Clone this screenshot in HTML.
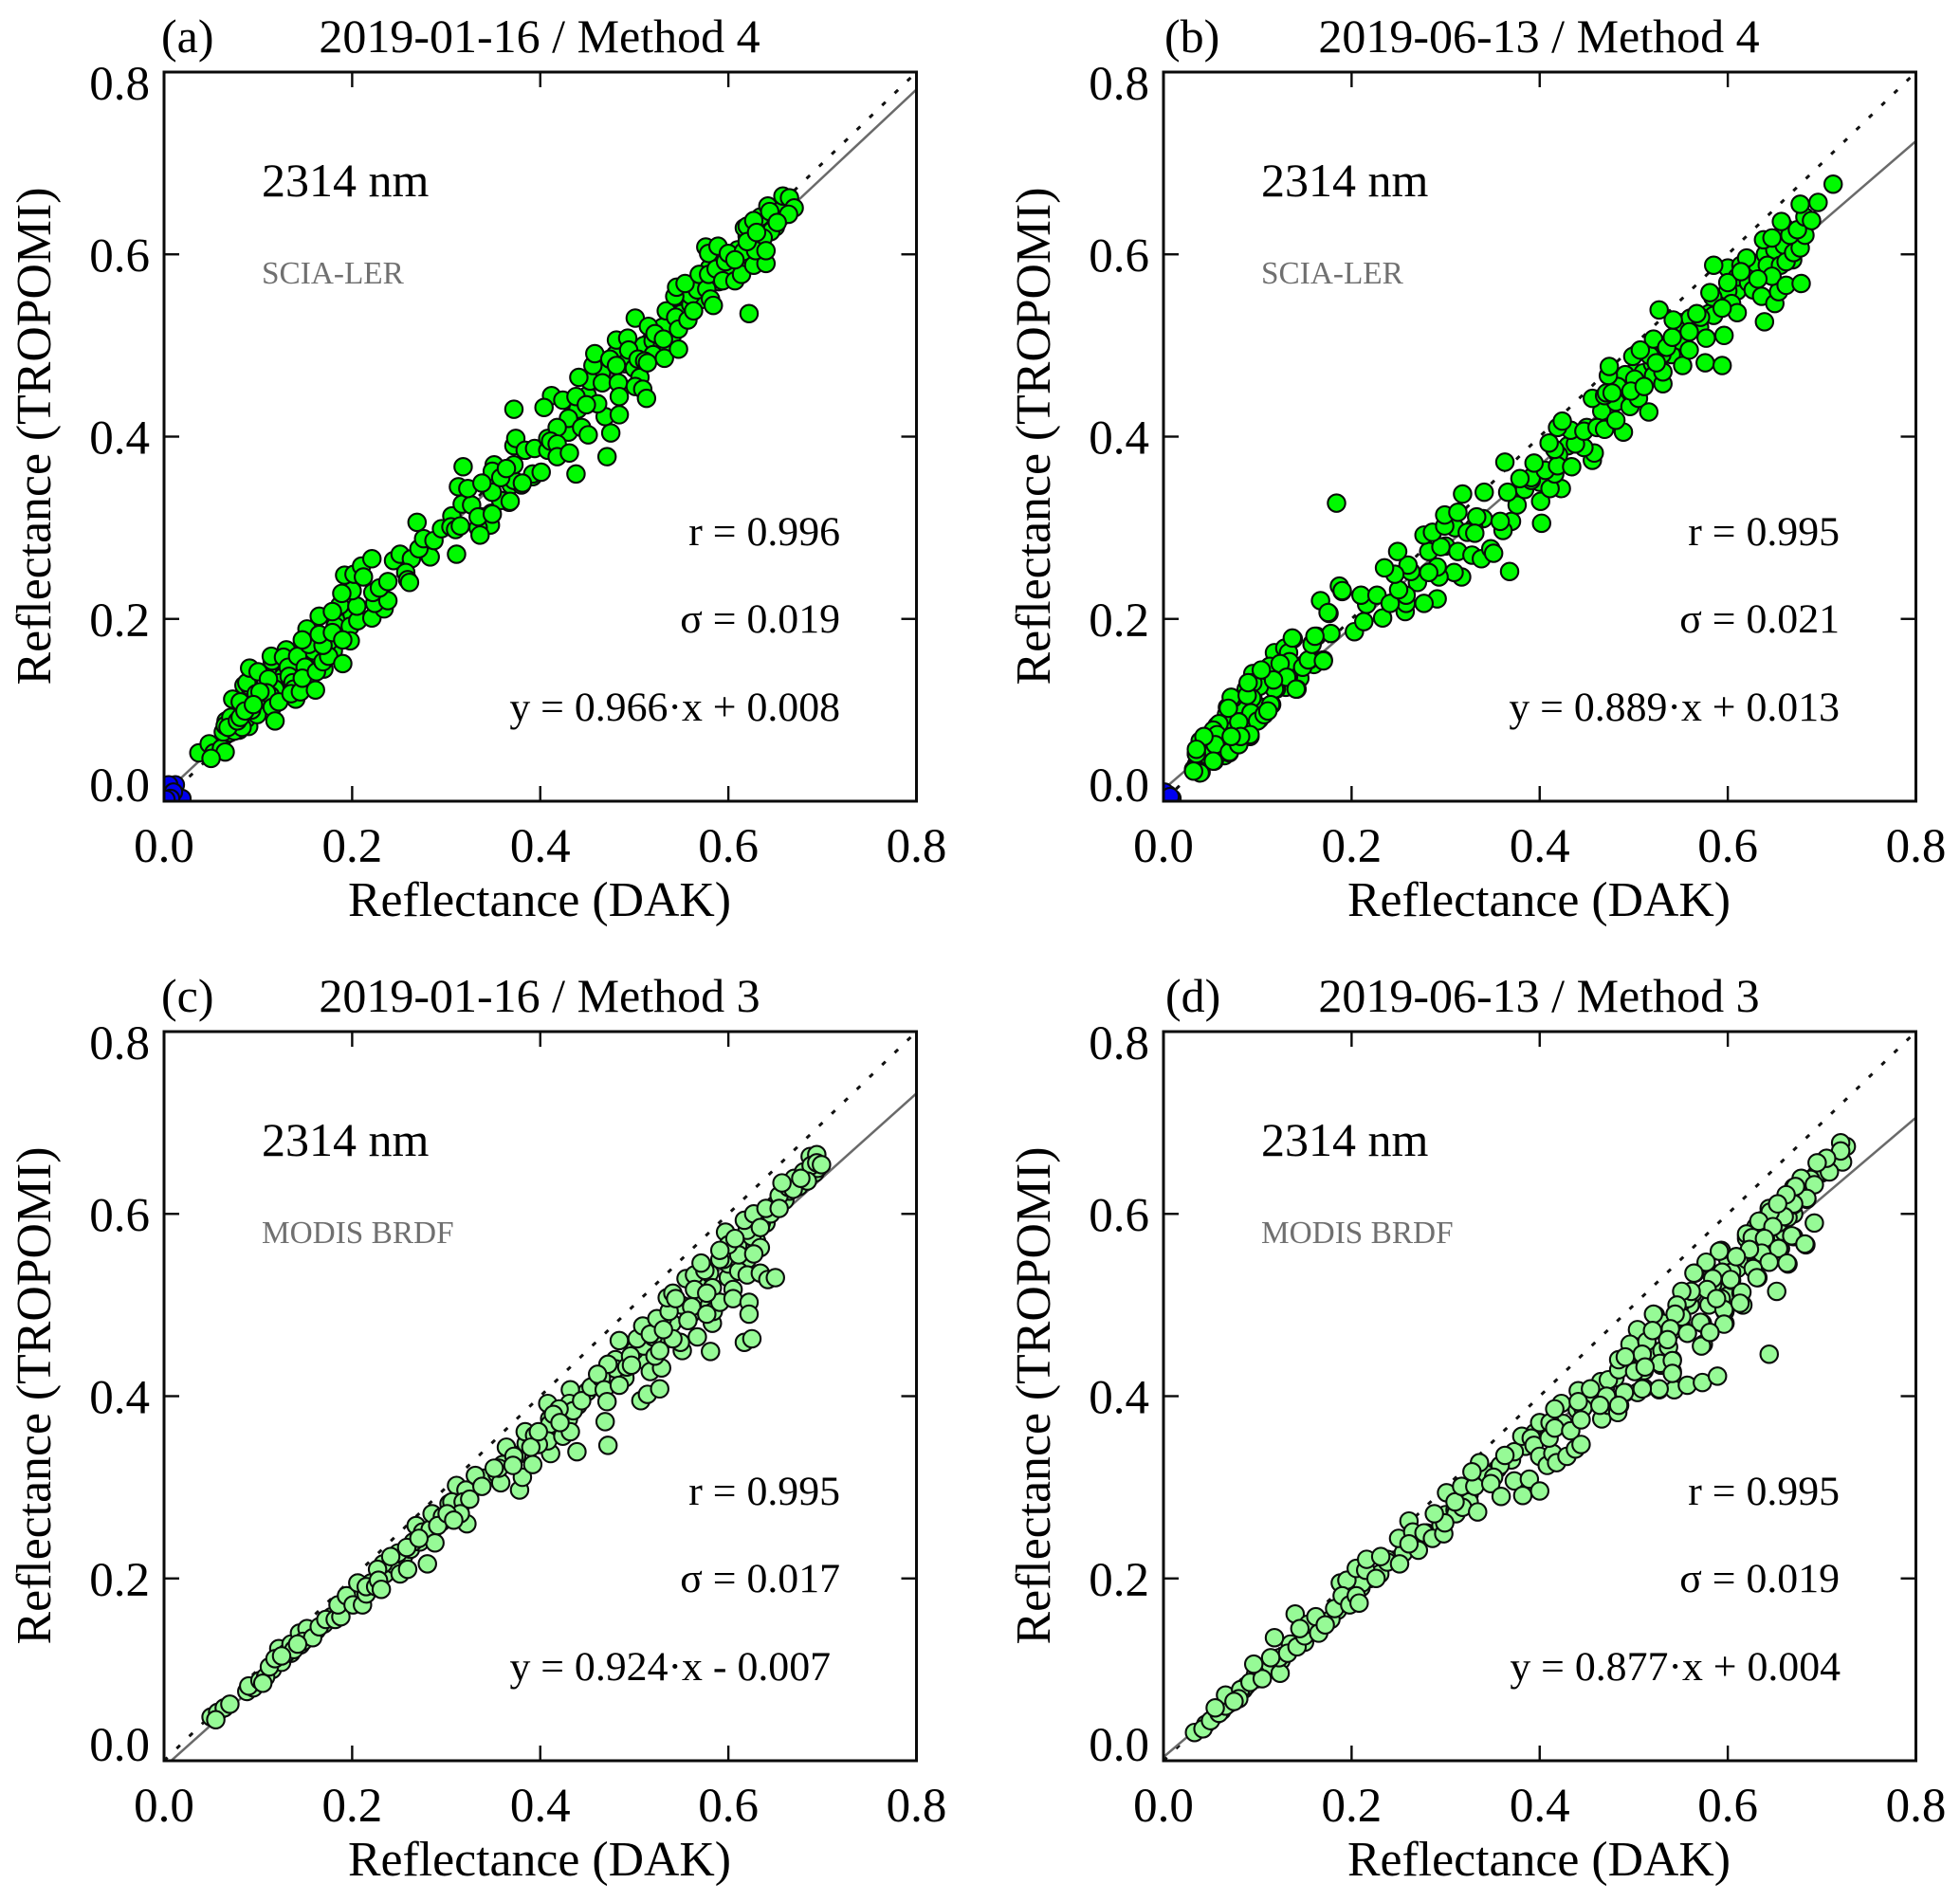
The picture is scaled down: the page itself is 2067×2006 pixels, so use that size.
<!DOCTYPE html>
<html>
<head>
<meta charset="utf-8">
<title>Reflectance scatter plots</title>
<style>
html,body{margin:0;padding:0;background:#fff;}
svg{display:block;}
text{font-family:"Liberation Serif",serif;fill:#000;}
.title{font-size:50px;text-anchor:middle;}
.letter{font-size:50px;}
.wave{font-size:50px;}
.source{font-size:33.3px;fill:#707070;}
.stat{font-size:43.8px;text-anchor:end;}
.axis-title{font-size:51.8px;text-anchor:middle;}
.tick-label{font-size:51px;}
</style>
</head>
<body>
<svg id="figure" xmlns="http://www.w3.org/2000/svg" width="2067" height="2006" viewBox="0 0 2067 2006">
<rect x="0" y="0" width="2067" height="2006" fill="#fff"/>
<g id="panel-a" transform="translate(173,76)">
  <text class="letter" x="-3" y="-21">(a)</text>
  <text class="title" x="396" y="-21">2019-01-16 / Method 4</text>
  <g class="plot"></g>
  <text class="wave" x="103" y="131">2314 nm</text>
  <text class="source" x="103" y="223">SCIA-LER</text>
  <text class="stat" x="713" y="499">r = 0.996</text>
  <text class="stat" x="713" y="591">σ = 0.019</text>
  <text class="stat" x="713" y="684">y = 0.966·x + 0.008</text>
  <text class="axis-title" x="396" y="890">Reflectance (DAK)</text>
  <text class="axis-title" transform="translate(-120,384) rotate(-90)">Reflectance (TROPOMI)</text>
</g>
<g id="panel-b" transform="translate(1227,76)">
  <text class="letter" x="1" y="-21">(b)</text>
  <text class="title" x="396" y="-21">2019-06-13 / Method 4</text>
  <g class="plot"></g>
  <text class="wave" x="103" y="131">2314 nm</text>
  <text class="source" x="103" y="223">SCIA-LER</text>
  <text class="stat" x="713" y="499">r = 0.995</text>
  <text class="stat" x="713" y="591">σ = 0.021</text>
  <text class="stat" x="713" y="684">y = 0.889·x + 0.013</text>
  <text class="axis-title" x="396" y="890">Reflectance (DAK)</text>
  <text class="axis-title" transform="translate(-120,384) rotate(-90)">Reflectance (TROPOMI)</text>
</g>
<g id="panel-c" transform="translate(173,1088)">
  <text class="letter" x="-3" y="-21">(c)</text>
  <text class="title" x="396" y="-21">2019-01-16 / Method 3</text>
  <g class="plot"></g>
  <text class="wave" x="103" y="131">2314 nm</text>
  <text class="source" x="103" y="223">MODIS BRDF</text>
  <text class="stat" x="713" y="499">r = 0.995</text>
  <text class="stat" x="713" y="591">σ = 0.017</text>
  <text class="stat" x="703" y="684">y = 0.924·x - 0.007</text>
  <text class="axis-title" x="396" y="890">Reflectance (DAK)</text>
  <text class="axis-title" transform="translate(-120,384) rotate(-90)">Reflectance (TROPOMI)</text>
</g>
<g id="panel-d" transform="translate(1227,1088)">
  <text class="letter" x="2" y="-21">(d)</text>
  <text class="title" x="396" y="-21">2019-06-13 / Method 3</text>
  <g class="plot"></g>
  <text class="wave" x="103" y="131">2314 nm</text>
  <text class="source" x="103" y="223">MODIS BRDF</text>
  <text class="stat" x="713" y="499">r = 0.995</text>
  <text class="stat" x="713" y="591">σ = 0.019</text>
  <text class="stat" x="714" y="684">y = 0.877·x + 0.004</text>
  <text class="axis-title" x="396" y="890">Reflectance (DAK)</text>
  <text class="axis-title" transform="translate(-120,384) rotate(-90)">Reflectance (TROPOMI)</text>
</g>
</svg>
<script>
const tickValues = [0, 0.2, 0.4, 0.6, 0.8];
const tickLabels = ["0.0", "0.2", "0.4", "0.6", "0.8"];
const fitSlopeA = 0.966, fitInterceptA = 0.008;
const fitSlopeB = 0.889, fitInterceptB = 0.013;
const fitSlopeC = 0.924, fitInterceptC = -0.007;
const fitSlopeD = 0.877, fitInterceptD = 0.004;

const blueA = [[.012,.018],[.003,.007],[.015,.005],[.019,.003],[.005,.018],[.010,.010],[.007,.003],[.002,.002]];
const blueB = [[.005,.007],[.009,.003],[.001,.010],[.003,.003],[.007,.005]];

const pointsA = [
[.12,.14],[.14,.15],[.15,.16],[.16,.17],[.48,.49],[.51,.50],[.52,.505],[.53,.50],[.55,.55],[.60,.575],[.58,.585],[.62,.595],[.61,.605],[.65,.63],
[.065,.072],[.07,.075],[.08,.078],[.09,.082],[.10,.10],[.11,.11],[.12,.115],[.125,.122],[.13,.125],[.14,.112],[.15,.125],[.155,.135],[.16,.145],[.17,.145],[.18,.165],[.175,.175],[.19,.195],[.20,.205],[.43,.405],[.44,.43],[.45,.445],[.465,.47],[.49,.48],[.50,.475],[.52,.49],[.54,.51],[.55,.535],[.56,.545],[.57,.55],[.575,.565],[.59,.57],[.60,.585],[.61,.59],[.615,.60],[.625,.61],[.635,.615],[.645,.625],[.655,.64],[.63,.635],[.66,.655],[.62,.62],[.60,.58],[.59,.595],[.56,.555],[.53,.52],
[.037,.053],[.048,.063],[.053,.053],[.061,.058],[.065,.054],[.050,.047],[.063,.076],[.066,.088],[.065,.083],[.076,.083],[.075,.077],[.087,.090],[.083,.081],[.099,.095],[.078,.109],[.073,.112],[.125,.151],[.130,.144],[.132,.133],[.138,.140],[.127,.137],[.123,.130],[.145,.146],[.155,.154],[.165,.159],[.172,.161],[.159,.165],[.135,.151],[.142,.133],[.145,.130],[.118,.123],[.113,.116],[.105,.113],[.095,.116],[.085,.127],[.081,.109],[.071,.092],[.068,.081],[.078,.088],[.081,.092],[.093,.100],
[.091,.126],[.088,.130],[.091,.146],[.100,.142],[.111,.134],[.109,.119],[.115,.103],[.118,.088],[.098,.118],[.102,.120],[.122,.109],[.086,.099],[.095,.106],[.115,.154],[.114,.159],[.130,.166],[.127,.158],[.132,.147],[.133,.137],[.137,.130],[.138,.123],[.135,.118],[.145,.120],[.161,.122],[.142,.159],[.150,.147],[.147,.135],[.162,.142],[.169,.153],[.175,.159],[.190,.151],[.154,.172],[.169,.171],[.152,.189],[.147,.177],[.165,.183],[.165,.203],[.182,.192],[.198,.192],[.198,.176],[.179,.185],[.190,.177],[.206,.198],[.187,.215],[.205,.214],[.179,.208],[.221,.201],[.234,.211],[.224,.217],[.238,.220],[.222,.229],[.229,.234],[.238,.241],[.200,.231],[.189,.228],[.192,.248],[.202,.249],[.210,.258],[.212,.246],[.221,.266],[.244,.264],[.251,.271],[.263,.266],[.257,.251],[.259,.243],[.261,.240],[.283,.268],[.271,.277],[.276,.288],[.287,.286],[.269,.306],[.295,.299],[.306,.313],[.305,.301],[.310,.298],[.315,.302],[.311,.271],[.337,.312],[.348,.316],[.347,.303],[.334,.300],[.336,.292],[.317,.326],[.327,.325],[.313,.345],[.323,.343],[.349,.339],[.343,.350],[.367,.328],[.358,.330],[.372,.351],[.369,.347],[.380,.347],[.392,.356],[.318,.367],
[.351,.369],[.349,.362],[.349,.339],[.338,.349],[.334,.312],[.349,.315],[.368,.329],[.372,.352],[.372,.369],[.372,.390],[.374,.398],[.384,.385],[.394,.387],[.392,.359],[.401,.361],[.381,.349],[.358,.355],[.364,.365],[.408,.385],[.408,.398],
[.372,.430],[.412,.445],[.404,.432],[.424,.440],[.438,.444],[.430,.420],[.418,.410],[.411,.395],[.418,.392],[.418,.378],[.431,.382],[.438,.359],[.444,.410],[.451,.402],[.471,.378],[.475,.404],[.469,.422],[.461,.436],[.449,.435],[.453,.461],[.441,.465],[.456,.478],[.458,.491],[.466,.459],[.474,.485],[.481,.478],[.483,.459],[.484,.444],[.484,.424],[.481,.506],[.493,.508],[.501,.530],[.494,.495],[.504,.485],[.506,.465],[.501,.455],[.509,.452],[.513,.442],[.511,.483],[.514,.481],[.515,.521],[.522,.513],[.531,.507],[.532,.486],[.547,.496],[.534,.538],[.544,.531],[.547,.518],[.543,.554],[.545,.564],[.557,.528],[.563,.538],[.567,.561],[.554,.568],[.569,.578],[.577,.562],[.581,.551],[.584,.544],[.576,.608],[.579,.601],[.579,.578],[.587,.584],[.589,.609],[.597,.592],[.594,.571],[.607,.571],[.614,.578],[.600,.601],[.622,.535],[.617,.629],[.620,.631],[.616,.603],[.627,.588],[.640,.590],[.637,.618],[.634,.641],[.627,.637],[.629,.604],[.640,.604],[.642,.653],[.654,.647],[.644,.647],[.658,.664],[.665,.662],[.670,.651],[.664,.644],[.652,.635],[.620,.614],[.630,.624],[.607,.594]
];

const pointsB = [
[.60,.585],[.61,.56],[.63,.575],[.65,.59],[.66,.60],[.55,.525],[.56,.53],[.50,.47],[.48,.44],[.47,.41],[.44,.40],[.34,.31],[.31,.30],
[.54,.49],[.55,.505],[.57,.52],[.58,.535],[.59,.55],[.60,.56],[.61,.575],[.62,.58],[.63,.59],[.64,.60],[.65,.605],[.66,.61],[.67,.62],[.66,.63],[.45,.41],[.47,.43],[.49,.44],[.49,.46],[.51,.47],[.52,.48],[.53,.49],[.43,.39],[.42,.38],[.40,.35],[.33,.30],[.30,.28],[.27,.24],[.25,.22],[.16,.15],[.13,.125],[.145,.135],
[.035,.040],[.059,.056],[.045,.046],[.062,.068],[.065,.050],[.052,.060],[.045,.060],[.072,.080],[.082,.100],[.105,.103],[.108,.129],[.098,.126],[.085,.106],[.088,.123],[.040,.032],[.032,.035],[.035,.052],[.039,.066],[.049,.073],[.057,.083],[.068,.073],[.078,.066],[.085,.076],[.070,.053],[.055,.062],[.054,.044],
[.084,.086],[.080,.086],[.074,.113],[.068,.103],[.072,.091],[.095,.096],[.092,.071],[.102,.090],[.095,.113],[.100,.139],[.115,.106],[.120,.123],[.113,.148],[.118,.163],[.133,.137],[.132,.161],[.142,.123],[.138,.178],[.158,.173],[.148,.149],[.155,.155],[.170,.155],[.163,.181],[.178,.184],[.184,.327],[.176,.206],[.167,.220],[.190,.230],[.187,.236],[.203,.186],[.213,.197],[.216,.216],[.210,.226],[.227,.226],[.233,.201],[.291,.222],[.277,.217],[.257,.208],[.258,.217],[.258,.226],[.241,.217],[.250,.232],[.317,.246],[.309,.251],[.293,.246],[.291,.257],[.282,.251],[.263,.252],[.260,.259],[.246,.249],[.235,.256],[.249,.274],[.282,.274],[.295,.279],[.277,.292],[.286,.295],[.299,.302],[.299,.314],[.313,.317],[.333,.312],[.323,.295],[.331,.294],[.313,.274],[.328,.270],[.338,.266],[.348,.277],[.351,.272],[.368,.252],[.370,.307],[.361,.297],[.358,.307],[.402,.305],[.401,.329],[.376,.325],[.318,.337],[.341,.339],[.366,.339],[.384,.342],[.423,.343],[.411,.343],[.416,.359],[.391,.352],[.391,.355],[.379,.354],[.363,.372],[.406,.363],[.394,.371],[.419,.368],[.416,.386],[.410,.393],[.434,.367],[.456,.374],[.458,.382],[.447,.388],[.438,.392],[.433,.407],[.419,.410],[.424,.417],[.447,.406],[.466,.428],[.461,.410],[.469,.408],[.489,.405],[.481,.418],[.481,.438],[.456,.442],[.469,.445],[.491,.468],[.483,.455],[.473,.467],[.474,.477],[.496,.433],[.505,.442],[.501,.463],[.497,.450],[.499,.488],[.516,.427],[.521,.467],[.531,.458],[.517,.489],[.521,.507],[.535,.498],[.527,.539],[.541,.509],[.542,.528],[.552,.478],[.559,.495],[.559,.515],[.577,.508],[.576,.481],[.594,.478],[.596,.511],[.585,.533],[.584,.553],[.585,.588],[.600,.569],[.604,.546],[.610,.536],[.622,.569],[.614,.588],[.620,.596],[.581,.558],[.594,.541],[.571,.531],[.567,.535],[.614,.581],[.627,.561],[.636,.554],[.642,.588],[.656,.588],[.669,.594],[.507,.495],[.531,.471],[.471,.448],[.477,.448],[.511,.455],[.524,.481],
[.639,.526],[.650,.546],[.654,.559],[.647,.576],[.632,.573],[.662,.566],[.678,.568],[.662,.592],[.670,.602],[.677,.607],[.682,.621],[.638,.616],[.647,.618],[.666,.621],[.657,.636],[.674,.627],[.682,.641],[.689,.637],[.677,.655],[.696,.657],[.712,.677],
[.064,.081],[.050,.068],[.074,.081],[.084,.088],[.094,.085],[.104,.102],[.080,.106],[.067,.095],[.047,.050],[.062,.054],
[.175,.207],[.190,.231],[.129,.168],[.133,.163],[.134,.153],[.148,.147],[.154,.155],[.170,.154],[.158,.172],[.161,.181],[.137,.179],[.113,.148],[.095,.140],[.124,.151],[.131,.136],[.118,.123],[.141,.123],[.114,.106],[.102,.126],[.095,.130],[.094,.113],[.074,.113],[.072,.114],[.093,.097],[.100,.088],[.080,.087],[.069,.102],[.059,.085],[.053,.078],[.057,.073],[.055,.062],[.043,.071],[.035,.052],[.035,.057],[.053,.044],[.039,.031],[.032,.033],[.070,.054],[.080,.062],[.092,.073],[.082,.071],[.072,.071],[.107,.095],[.111,.099],[.089,.116],[.090,.130],[.117,.133],[.104,.144]
];

const pointsC = [
[.48,.44],[.49,.42],[.51,.44],[.53,.46],[.54,.48],[.56,.49],[.57,.50],[.58,.50],[.60,.53],[.60,.545],[.615,.56],[.62,.55],[.63,.57],[.64,.59],[.65,.61],
[.10,.085],[.115,.100],[.125,.108],[.135,.118],[.145,.127],[.155,.138],[.162,.143],[.17,.150],[.178,.158],[.19,.168],[.197,.175],[.205,.182],[.22,.195],[.235,.205],[.245,.215],[.255,.225],[.262,.232],[.272,.240],[.285,.252],[.295,.262],[.305,.272],[.31,.278],[.325,.293],[.34,.31],[.36,.325],[.375,.335],[.385,.348],[.40,.36],[.41,.375],[.42,.38],[.43,.375],[.44,.39],[.45,.405],[.46,.415],[.48,.43],[.50,.45],[.51,.455],[.52,.465],[.53,.485],[.55,.50],[.57,.52],[.58,.535],[.595,.55],[.61,.565],[.625,.575],[.635,.59],[.645,.60],[.66,.615],[.665,.625],[.675,.63],[.685,.642],[.692,.645],[.695,.65],
[.050,.048],[.057,.053],[.064,.058],[.070,.062],[.055,.045],[.088,.076],[.095,.080],[.090,.082],[.102,.088],[.108,.092],[.105,.085],[.112,.103],[.122,.123],[.118,.112],[.130,.118],[.135,.128],[.138,.122],[.144,.140],[.152,.145],[.148,.131],[.158,.135],[.165,.147],[.172,.155],[.182,.155],[.188,.158],[.185,.171],[.194,.181],[.201,.171],[.211,.171],[.215,.183],[.206,.195],[.215,.191],[.225,.191],[.233,.216],[.227,.210],[.228,.198],[.251,.205],[.259,.210],[.249,.228],[.241,.224],[.265,.240],[.268,.258],[.275,.251],[.283,.254],[.280,.216],[.288,.239],[.285,.271],[.296,.268],[.303,.282],[.311,.302],[.306,.284],[.321,.297],[.318,.284],[.322,.260],[.315,.271],[.331,.313],[.338,.301],[.354,.315],[.358,.305],[.356,.321],[.364,.344],[.372,.334],[.378,.297],[.381,.311],[.392,.325],[.384,.361],[.394,.357],[.408,.392],[.410,.369],[.411,.337],[.408,.351],[.398,.347],[.390,.344],[.424,.356],[.439,.339],[.432,.361],[.432,.407],[.431,.392],[.435,.384],[.420,.386],[.444,.395],[.454,.410],[.465,.420],[.472,.435],[.461,.424],[.468,.407],[.471,.394],[.469,.372],[.472,.346],[.484,.412],[.492,.432],[.496,.444],[.484,.461],[.503,.463],[.509,.477],[.517,.468],[.507,.395],[.514,.402],[.527,.408],[.517,.427],[.529,.431],[.522,.444],[.527,.450],[.524,.485],[.537,.493],[.535,.508],[.541,.513],[.555,.529],[.564,.533],[.551,.450],[.549,.459],[.541,.463],[.567,.465],[.581,.449],[.583,.480],[.584,.493],[.583,.519],[.591,.550],[.575,.538],[.564,.517],[.561,.498],[.557,.483],[.577,.490],[.591,.503],[.597,.580],[.605,.517],[.605,.507],[.611,.537],[.620,.533],[.622,.503],[.622,.490],[.617,.459],[.625,.463],[.634,.535],[.642,.528],[.650,.530],[.611,.555],[.620,.582],[.617,.593],[.627,.600],[.634,.585],[.634,.563],[.627,.556],[.640,.606],[.654,.620],[.654,.606],[.664,.629],[.670,.639],[.669,.627],[.680,.646],[.687,.663],[.694,.665],[.688,.653],[.694,.656],[.699,.654],[.684,.636],[.677,.639],[.657,.634],[.600,.566],[.607,.573],[.591,.560],[.571,.546],[.577,.513],[.544,.507],[.531,.473],[.497,.434],[.125,.115],[.142,.128],[.231,.188],[.258,.234],[.271,.244],[.291,.258],[.301,.271],[.308,.264],[.325,.287],[.351,.321],[.371,.324],[.398,.361],[.414,.380],[.421,.371]
];

const pointsD = [
[.50,.44],[.52,.45],[.53,.45],[.55,.48],[.56,.50],[.58,.50],[.59,.52],[.60,.51],[.60,.55],[.61,.54],[.62,.55],[.63,.55],[.64,.585],[.65,.58],[.66,.58],[.67,.60],[.68,.625],[.70,.645],
[.055,.050],[.07,.063],[.085,.078],[.10,.09],[.11,.10],[.125,.11],[.135,.125],[.15,.13],[.16,.15],[.17,.15],[.185,.165],[.195,.175],[.21,.19],[.22,.20],[.23,.205],[.245,.22],[.255,.228],[.27,.24],[.28,.25],[.295,.262],[.30,.27],[.31,.275],[.325,.292],[.34,.31],[.355,.32],[.37,.33],[.385,.345],[.395,.36],[.41,.36],[.425,.37],[.44,.385],[.455,.395],[.47,.41],[.48,.42],
[.098,.095],[.068,.062],[.062,.055],[.045,.040],[.088,.082],[.135,.128],[.158,.141],[.178,.155],[.198,.188],[.211,.195],[.238,.221],[.265,.238],[.281,.248],[.295,.258],[.311,.271],[.325,.284],[.344,.314],[.358,.324],
[.033,.031],[.042,.035],[.050,.044],[.059,.052],[.066,.060],[.066,.072],[.055,.058],[.082,.078],[.092,.086],[.105,.090],[.096,.106],[.080,.068],[.075,.065],[.118,.135],[.124,.096],[.123,.113],[.114,.113],[.132,.118],[.142,.125],[.140,.161],[.150,.137],[.154,.150],[.145,.145],[.162,.158],[.165,.140],[.172,.149],[.182,.167],[.188,.195],[.195,.198],[.190,.181],[.198,.171],[.205,.181],[.208,.173],[.205,.211],[.215,.209],[.216,.221],[.226,.200],[.238,.218],[.231,.224],[.251,.216],[.250,.244],[.261,.263],[.265,.251],[.271,.231],[.277,.250],[.261,.238],[.286,.244],[.298,.249],[.299,.261],[.288,.271],[.301,.294],[.318,.278],[.310,.284],[.317,.301],[.331,.301],[.334,.273],[.336,.327],[.328,.317],[.351,.311],[.348,.304],[.359,.290],[.373,.307],[.373,.339],[.363,.335],[.381,.356],[.391,.354],[.394,.346],[.382,.291],[.389,.309],[.400,.296],[.400,.334],[.408,.324],[.414,.337],[.400,.371],[.410,.354],[.411,.371],[.416,.365],[.423,.392],[.416,.386],[.418,.327],[.429,.334],[.433,.362],[.438,.342],[.444,.347],[.446,.387],[.441,.406],[.441,.394],[.444,.374],[.466,.375],[.473,.390],[.485,.390],[.483,.382],[.465,.416],[.473,.418],[.454,.408],[.484,.429],[.491,.404],[.504,.404],[.511,.409],[.527,.407],[.543,.407],[.557,.412],[.573,.415],[.589,.422],[.541,.427],[.541,.440],[.529,.434],[.511,.428],[.494,.444],[.509,.447],[.501,.450],[.484,.440],[.521,.472],[.504,.473],[.523,.489],[.496,.457],[.537,.454],[.546,.488],[.541,.472],[.549,.500],[.557,.469],[.574,.457],[.573,.480],[.581,.470],[.597,.480],[.597,.493],[.593,.507],[.579,.517],[.563,.513],[.565,.535],[.577,.546],[.593,.560],[.596,.533],[.604,.527],[.614,.513],[.616,.500],[.609,.553],[.620,.576],[.628,.540],[.632,.530],[.625,.560],[.638,.556],[.640,.573],[.652,.515],[.644,.446],[.656,.562],[.664,.545],[.670,.575],[.683,.566],[.692,.590],[.654,.590],[.630,.586],[.650,.601],[.664,.596],[.670,.610],[.684,.616],[.674,.623],[.660,.613],[.678,.633],[.687,.636],[.697,.653],[.707,.659],[.722,.657],[.726,.674],[.720,.678],[.720,.669],[.694,.643],[.708,.646],[.670,.629],[.644,.606],[.637,.593],[.620,.573],[.604,.536],[.584,.523],[.557,.507],[.551,.487],[.531,.480],[.514,.460],[.501,.427],[.471,.400],[.464,.390],
[.705,.661],[.695,.656],[.688,.638],[.678,.639],[.692,.632],[.684,.617],[.670,.611],[.672,.630],[.662,.621],[.660,.597],[.645,.602],[.653,.611],[.633,.592],[.648,.586],[.620,.578],[.626,.574],[.639,.573],[.668,.576],[.682,.567],[.654,.562],[.636,.557],[.623,.561],[.609,.553],[.591,.559],[.663,.546],[.644,.547],[.627,.540],[.631,.530],[.577,.547],[.564,.535],[.594,.536],[.603,.528],[.584,.529],[.615,.514],[.578,.517],[.561,.515],[.551,.515],[.546,.500],[.596,.495],[.588,.507],[.613,.502],[.596,.479],[.571,.481],[.557,.469],[.572,.455],[.581,.470],[.544,.490],[.521,.490],[.539,.474],[.520,.472],[.536,.462],[.509,.446],[.491,.443],[.528,.436],[.541,.439],[.541,.425],[.512,.432],[.527,.408],[.509,.408],[.490,.404],[.484,.390]
];

const plotWidth = 793.5, plotHeight = 769, axisMax = 0.8;
const SVGNS = "http://www.w3.org/2000/svg";
function xScale(v){ return v / axisMax * plotWidth; }
function yScale(v){ return plotHeight - v / axisMax * plotHeight; }
function make(tag, attrs){
  const el = document.createElementNS(SVGNS, tag);
  for (const k in attrs) el.setAttribute(k, attrs[k]);
  return el;
}
function addDots(group, pts, fill, name){
  pts.forEach(function(p){
    const c = make("circle", {cx: xScale(p[0]), cy: yScale(p[1]), r: 9.2, fill: fill, stroke: "#0a0a0a", "stroke-width": 2.1});
    
    
    group.appendChild(c);
  });
}
function drawPanel(id, pts, blue, color, slope, intercept){
  const root = document.querySelector("#" + id + " .plot");
  
  
  const clip = make("clipPath", {id: "clip-" + id});
  clip.appendChild(make("rect", {x: 0, y: 0, width: plotWidth, height: plotHeight}));
  root.appendChild(clip);
  const marks = make("g", {"clip-path": "url(#clip-" + id + ")"});
  
  
  root.appendChild(marks);
  const identity = make("line", {x1: xScale(0), y1: yScale(0), x2: xScale(axisMax), y2: yScale(axisMax), stroke: "#111", "stroke-width": 3, "stroke-dasharray": "5 13.5"});
  
  
  marks.appendChild(identity);
  const fit = make("line", {x1: xScale(0), y1: yScale(intercept), x2: xScale(axisMax), y2: yScale(slope * axisMax + intercept), stroke: "#6a6a6a", "stroke-width": 2.5});
  
  
  marks.appendChild(fit);
  addDots(marks, pts, color, 'data-point');
  addDots(marks, blue, "#0000f0", 'near-zero-point');
  const frame = make("rect", {x: 0, y: 0, width: plotWidth, height: plotHeight, fill: "none", stroke: "#0a0a0a", "stroke-width": 3});
  
  
  root.appendChild(frame);
  const yBaselineShift = [0, 18, 18, 18, 29];
  tickValues.forEach(function(v, i){
    const segs = [
      [xScale(v), plotHeight, xScale(v), plotHeight - 16],
      [xScale(v), 0, xScale(v), 16],
      [0, yScale(v), 16, yScale(v)],
      [plotWidth, yScale(v), plotWidth - 16, yScale(v)]
    ];
    segs.forEach(function(s){
      const t = make("line", {x1: s[0], y1: s[1], x2: s[2], y2: s[3], stroke: "#0a0a0a", "stroke-width": 2.4});
      
      
      root.appendChild(t);
    });
    const xl = make("text", {x: xScale(v), y: plotHeight + 64, "text-anchor": "middle", class: "tick-label"});
    xl.textContent = tickLabels[i];
    
    
    root.appendChild(xl);
    const yl = make("text", {x: -15, y: yScale(v) + yBaselineShift[i], "text-anchor": "end", class: "tick-label"});
    yl.textContent = tickLabels[i];
    
    
    root.appendChild(yl);
  });
}
drawPanel("panel-a", pointsA, blueA, "#00fa00", fitSlopeA, fitInterceptA);
drawPanel("panel-b", pointsB, blueB, "#00fa00", fitSlopeB, fitInterceptB);
drawPanel("panel-c", pointsC, [], "#96fa96", fitSlopeC, fitInterceptC);
drawPanel("panel-d", pointsD, [], "#96fa96", fitSlopeD, fitInterceptD);
</script>
</body>
</html>
